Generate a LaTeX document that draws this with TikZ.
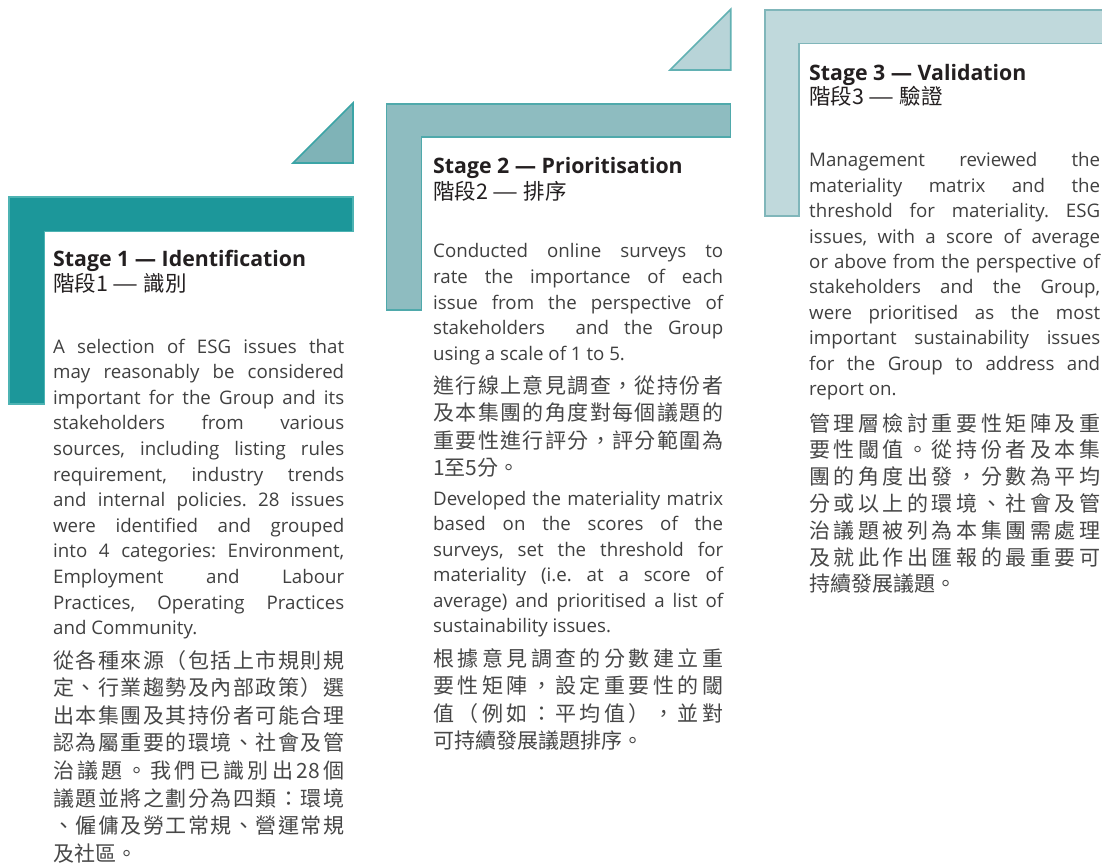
\documentclass[tikz,border=0pt]{standalone}
\usepackage{fontspec}
\usepackage{graphicx}
\setmainfont{Open Sans}
\newfontfamily\cjk{Noto Sans CJK TC}
\frenchspacing
\definecolor{sonefill}{HTML}{1C979A}
\definecolor{soneline}{HTML}{4DB3B3}
\definecolor{tonefill}{HTML}{7FB3B7}
\definecolor{toneline}{HTML}{3BA4A6}
\definecolor{stwofill}{HTML}{8EBCC0}
\definecolor{stwoline}{HTML}{4FA9AB}
\definecolor{ttwofill}{HTML}{B8D4D8}
\definecolor{ttwoline}{HTML}{62B1B3}
\definecolor{sthreefill}{HTML}{C0D9DC}
\definecolor{sthreeline}{HTML}{80B6BA}
\definecolor{txtc}{HTML}{404040}
\definecolor{cjkc}{HTML}{474747}
\definecolor{ttlc}{HTML}{231F20}
\newlength\linew
\makeatletter
\def\spr@end{\spr@end}
\newcommand\spreadline[1]{\hbox to \linew{\spr@first#1\spr@end}}
\def\spr@first#1{#1\spr@next}
\def\spr@next#1{\ifx\spr@end#1\else\hfil#1\expandafter\spr@next\fi}
\makeatother
\newcommand\longdash{\scalebox{1.35}[1]{—}}
\tikzset{
  bodytxt/.style={anchor=base west, inner sep=0pt, text=txtc, font=\fontsize{18.7}{24}\selectfont\frenchspacing},
  cjktxt/.style={anchor=base west, inner sep=0pt, text=cjkc, font=\cjk\fontsize{21}{26}\selectfont},
  ttl/.style={anchor=base west, inner sep=0pt, text=ttlc, font=\bfseries\fontsize{21.3}{24}\selectfont},
  cjkttl/.style={anchor=base west, inner sep=0pt, text=ttlc, font=\cjk\fontsize{21.5}{24}\selectfont},
  lshape/.style={line width=1.3pt, line join=miter},
  tri/.style={line width=1.6pt, line join=miter},
}
% name, x, y0, pitch, width, list of lines
\newcommand\enblock[6]{%
  \global\linew=#5pt\relax
  \foreach \t [count=\i from 0] in {#6} {
    \node[bodytxt] (#1\i) at (#2,{#3+\i*#4}) {\makebox[\linew][s]{\t}};
  }}
\newcommand\cnblock[6]{%
  \global\linew=#5pt\relax
  \foreach \t [count=\i from 0] in {#6} {
    \node[cjktxt] (#1\i) at (#2,{#3+\i*#4}) {\expandafter\spreadline\expandafter{\t}};
  }}
\begin{document}
\begin{tikzpicture}[x=1pt,y=-1pt]
\useasboundingbox (0,0) rectangle (1102,866);
\fill[white] (0,0) rectangle (1102,866);

% ---------- shapes ----------
\filldraw[fill=sonefill, draw=soneline, lshape] (9,197) -- (353,197) -- (353,231.5) -- (44.3,231.5) -- (44.3,404) -- (9,404) -- cycle;
\filldraw[fill=tonefill, draw=toneline, tri] (293,163) -- (353,103) -- (353,163) -- cycle;

\filldraw[fill=stwofill, draw=stwoline, lshape] (386.7,104) -- (730.7,104) -- (730.7,137) -- (421.7,137) -- (421.7,310) -- (386.7,310) -- cycle;
\filldraw[fill=ttwofill, draw=ttwoline, tri] (670,70) -- (730.7,9.3) -- (730.7,70) -- cycle;

\filldraw[fill=sthreefill, draw=sthreeline, lshape] (765,10) -- (1110,10) -- (1110,43.5) -- (799,43.5) -- (799,216) -- (765,216) -- cycle;

% ---------- Stage 1 ----------
\node[ttl] (s1t) at (53,267) {Stage 1 — Identification};
\node[cjkttl] (s1tc) at (53,292) {階段1 \longdash\ 識別};
\enblock{s1e}{53}{353}{25.6}{291}{{A selection of ESG issues that},{may reasonably be considered},{important for the Group and its},{stakeholders from various},{sources, including listing rules},{requirement, industry trends},{and internal policies. 28 issues},{were identified and grouped},{into 4 categories:  Environment,},{Employment and Labour},{Practices, Operating Practices}}
\node[bodytxt] (s1eL) at (53,634.6) {and Community.};
\cnblock{s1c}{53}{668}{27.6}{291}{從各種來源（包括上市規則規,定、行業趨勢及內部政策）選,出本集團及其持份者可能合理,認為屬重要的環境、社會及管,治議題。我們已識別出{28}個,議題並將之劃分為四類：環境,、僱傭及勞工常規、營運常規}
\node[cjktxt] (s1cL) at (53,861.2) {及社區。};

% ---------- Stage 2 ----------
\node[ttl] (s2t) at (433,174) {Stage 2 — Prioritisation};
\node[cjkttl] (s2tc) at (433,200) {階段2 \longdash\ 排序};
\enblock{s2e}{433}{258}{25.5}{290}{{Conducted online surveys to},{rate the importance of each},{issue from the perspective of},{stakeholders \ and the Group}}
\node[bodytxt] (s2eL) at (433,360) {using a scale of 1 to 5.};
\cnblock{s2c}{433}{393}{27.6}{290}{進行線上意見調查，從持份者,及本集團的角度對每個議題的,重要性進行評分，評分範圍為}
\node[cjktxt] (s2cL) at (433,475.8) {1至5分。};
\enblock{s2f}{433}{505}{25.5}{290}{{Developed the materiality matrix},{based on the scores of the},{surveys, set the threshold for},{materiality (i.e. at a score of},{average) and prioritised a list of}}
\node[bodytxt] (s2fL) at (433,632.5) {sustainability issues.};
\cnblock{s2d}{433}{666}{27.6}{290}{根據意見調查的分數建立重,要性矩陣，設定重要性的閾,值（例如：平均值），並對}
\node[cjktxt] (s2dL) at (433,748.8) {可持續發展議題排序。};

% ---------- Stage 3 ----------
\node[ttl] (s3t) at (809,81) {Stage 3 — Validation};
\node[cjkttl] (s3tc) at (809,105) {階段3 \longdash\ 驗證};
\enblock{s3e}{809}{167}{25.4}{291}{{Management reviewed the},{materiality matrix and the},{threshold for materiality. ESG},{issues, with a score of average},{or above from the perspective of},{stakeholders and the Group,},{were prioritised as the most},{important sustainability issues},{for the Group to address and}}
\node[bodytxt] (s3eL) at (809,395.6) {report on.};
\cnblock{s3c}{809}{431}{26.8}{291}{管理層檢討重要性矩陣及重,要性閾值。從持份者及本集,團的角度出發，分數為平均,分或以上的環境、社會及管,治議題被列為本集團需處理,及就此作出匯報的最重要可}
\node[cjktxt] (s3cL) at (809,591.8) {持續發展議題。};
\end{tikzpicture}
\end{document}
